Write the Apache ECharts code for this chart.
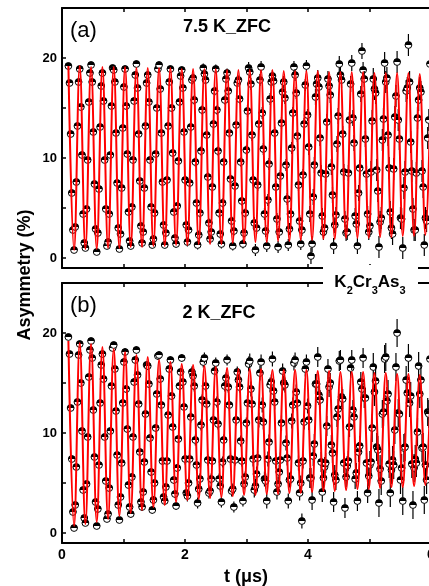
<!DOCTYPE html>
<html>
<head>
<meta charset="utf-8">
<script src="https://cdn.jsdelivr.net/npm/echarts@6/dist/echarts.min.js"></script>
<style>
  html, body { margin: 0; padding: 0; background: #fff; }
  #chart { width: 429px; height: 586px; }
</style>
</head>
<body>
<div id="chart"></div>
<script>
// time binning of the spectra (us)
var t0 = 0.104
var binWidth = 0.01843
var halfPeriod = 0.09215

// (a) 7.5 K_ZFC asymmetry (%), one row per precession period
var asymA = [
  [19.2, 17.5, 12.4, 6.5, 2.8, 0.8, 3.1, 7.6, 13.2, 17.6],
  [18.9, 15.1, 10.3, 4.4, 1.5, 1.0, 4.9, 9.8, 15.6, 18.5],
  [19.3, 17.6, 12.6, 7.4, 2.9, 0.6, 2.5, 6.9, 13.1, 17.2],
  [18.5, 15.7, 9.8, 4.9, 1.2, 1.6, 4.4, 10.3, 15.2, 19.0],
  [18.8, 17.6, 12.5, 7.5, 3.0, 0.9, 2.4, 7.0, 13.0, 17.1],
  [18.9, 15.2, 10.4, 4.6, 1.7, 1.2, 5.1, 9.8, 15.7, 18.3],
  [19.4, 17.0, 12.4, 7.7, 3.2, 1.5, 2.6, 7.0, 13.2, 17.5],
  [18.3, 15.6, 9.8, 5.1, 1.3, 1.9, 4.5, 10.4, 15.0, 18.9],
  [19.3, 16.9, 12.5, 7.6, 3.3, 1.3, 2.5, 7.8, 13.2, 17.6],
  [18.9, 15.0, 10.5, 4.6, 2.0, 1.4, 5.2, 9.7, 15.6, 18.2],
  [18.8, 17.0, 12.6, 7.8, 3.3, 1.6, 2.8, 7.5, 13.1, 17.8],
  [18.0, 15.8, 9.6, 5.5, 1.3, 2.3, 4.5, 10.7, 14.8, 19.0],
  [18.4, 17.8, 12.3, 8.1, 3.5, 1.9, 2.6, 7.1, 13.4, 16.7],
  [18.9, 14.8, 10.7, 4.5, 2.4, 1.4, 5.5, 9.6, 15.8, 17.9],
  [18.5, 16.7, 12.5, 7.9, 3.7, 1.2, 2.7, 7.2, 13.3, 17.5],
  [17.8, 15.9, 9.6, 5.7, 1.4, 2.5, 4.5, 10.8, 14.7, 19.0],
  [18.6, 17.4, 12.3, 7.8, 3.5, 0.8, 3.0, 7.3, 13.4, 17.8],
  [19.1, 14.5, 10.9, 4.4, 2.7, 1.2, 5.8, 9.4, 15.9, 17.6],
  [18.2, 17.7, 12.5, 7.1, 3.9, 1.1, 2.6, 8.2, 13.5, 16.6],
  [17.6, 16.0, 9.3, 5.9, 1.3, 2.9, 4.4, 11.0, 14.5, 19.1],
  [18.3, 16.5, 12.2, 7.3, 3.7, 1.4, 2.8, 8.3, 13.4, 17.3],
  [19.2, 14.3, 11.1, 4.4, 0.2, 1.4, 6.1, 9.3, 16.1, 17.4],
  [18.0, 17.1, 12.0, 8.5, 4.2, 2.6, 3.0, 8.4, 13.6, 17.9],
  [17.2, 16.3, 9.1, 6.3, 1.2, 3.3, 4.3, 11.4, 14.2, 19.4],
  [18.3, 17.8, 12.4, 8.6, 3.9, 2.5, 2.6, 8.5, 13.8, 17.4],
  [19.5, 14.0, 11.5, 4.2, 3.4, 1.2, 6.5, 9.0, 16.4, 20.7],
  [18.8, 17.9, 11.9, 8.4, 4.4, 2.6, 3.2, 8.6, 13.7, 17.9],
  [16.9, 16.5, 8.8, 6.7, 1.1, 3.6, 4.0, 11.8, 13.9, 19.5],
  [17.6, 18.0, 12.3, 9.0, 4.6, 3.0, 2.4, 8.9, 14.1, 16.2],
  [19.6, 13.8, 11.9, 4.0, 3.9, 1.0, 7.0, 8.6, 16.7, 17.0],
  [21.3, 17.6, 11.6, 8.7, 4.9, 2.8, 2.8, 8.5, 14.0, 15.8],
  [17.0, 16.6, 8.7, 7.1, 1.3, 4.0, 3.7, 12.0, 13.8, 19.4]
]

// (b) 2 K_ZFC asymmetry (%)
var asymB = [
  [19.6, 17.9, 12.5, 7.4, 2.1, 0.5, 2.8, 6.6, 13.1, 17.8],
  [18.9, 15.0, 10.2, 4.3, 1.5, 1.0, 4.9, 9.6, 15.6, 18.3],
  [19.2, 17.5, 12.3, 7.6, 3.1, 0.7, 2.4, 6.8, 13.0, 16.8],
  [17.9, 15.4, 9.6, 5.2, 1.4, 1.9, 4.5, 10.2, 14.7, 18.5],
  [18.8, 16.4, 12.2, 7.8, 2.8, 1.3, 3.6, 7.0, 13.0, 17.1],
  [18.1, 14.4, 10.4, 4.8, 2.6, 1.9, 5.6, 9.6, 15.1, 17.3],
  [18.3, 15.8, 12.9, 8.1, 3.1, 2.6, 4.1, 7.1, 11.9, 16.8],
  [16.7, 14.9, 9.5, 6.1, 2.3, 3.3, 5.0, 10.5, 13.9, 17.7],
  [17.8, 15.4, 12.8, 7.2, 3.6, 3.2, 4.6, 7.2, 11.8, 16.4],
  [17.3, 13.7, 10.6, 5.3, 3.9, 2.7, 6.5, 9.4, 14.7, 16.1],
  [17.5, 15.1, 12.6, 7.4, 4.0, 3.7, 5.0, 7.4, 11.6, 16.1],
  [15.7, 14.7, 9.3, 6.8, 3.0, 4.4, 5.4, 10.8, 13.3, 17.1],
  [17.5, 14.7, 12.9, 7.3, 4.0, 4.2, 5.4, 7.2, 11.3, 16.2],
  [17.0, 13.1, 10.9, 5.4, 4.7, 3.1, 7.1, 9.3, 14.7, 15.5],
  [17.3, 14.6, 12.8, 7.4, 4.2, 4.4, 2.6, 7.3, 11.3, 16.1],
  [15.3, 14.6, 9.2, 7.2, 3.2, 4.9, 5.6, 11.0, 13.0, 16.9],
  [17.2, 14.4, 12.9, 7.4, 4.3, 4.7, 5.9, 7.5, 11.3, 16.0],
  [17.1, 12.8, 11.1, 5.4, 5.2, 3.2, 7.4, 9.1, 14.8, 15.1],
  [17.4, 14.2, 13.1, 7.2, 4.1, 4.9, 6.1, 7.3, 11.0, 16.2],
  [15.0, 14.8, 9.0, 7.5, 3.2, 5.3, 5.4, 11.2, 12.8, 17.0],
  [17.3, 14.1, 13.0, 7.0, 4.0, 5.0, 1.2, 7.2, 11.1, 16.4],
  [17.1, 12.7, 11.3, 5.5, 5.5, 3.3, 7.7, 8.9, 14.9, 14.9],
  [17.6, 13.8, 13.3, 7.1, 4.1, 5.5, 6.6, 7.0, 10.7, 16.4],
  [14.6, 15.0, 8.8, 8.0, 3.1, 5.8, 5.3, 11.6, 12.4, 17.2],
  [17.3, 13.6, 13.4, 7.0, 2.5, 5.6, 6.7, 7.2, 10.6, 16.5],
  [17.3, 12.3, 11.6, 5.4, 6.0, 3.2, 8.1, 8.7, 15.1, 14.4],
  [17.5, 13.5, 13.5, 7.0, 4.0, 5.7, 6.8, 7.1, 10.5, 16.6],
  [14.1, 15.2, 8.6, 8.3, 3.0, 6.4, 5.2, 11.9, 12.1, 17.4],
  [17.6, 13.2, 13.9, 6.9, 4.0, 6.3, 7.3, 6.8, 10.3, 16.6],
  [20.0, 12.0, 11.9, 5.3, 6.5, 3.2, 8.5, 8.6, 15.3, 14.0],
  [17.5, 13.0, 13.7, 6.9, 2.8, 6.5, 7.4, 7.0, 10.1, 16.7],
  [13.9, 15.3, 8.5, 8.6, 3.3, 6.8, 5.3, 12.1, 11.9, 17.4]
]

// error bar half-length (%) for each 1 us of time
var errA = [0.3, 0.35, 0.45, 0.6, 0.8, 1.1]
var errB = [0.3, 0.4, 0.55, 0.75, 1.0, 1.4]

// fit curve: alternating maxima / minima, every half period from t0
var fitA = [19.2, 0.8, 19.2, 0.9, 19.1, 0.9, 19.1, 1.0, 19.1, 1.0, 19.1, 1.1, 19.0, 1.1, 19.0, 1.2,
  19.0, 1.2, 19.0, 1.3, 18.9, 1.3, 18.9, 1.4, 18.9, 1.4, 18.9, 1.4, 18.8, 1.5, 18.8, 1.5,
  18.8, 1.6, 18.8, 1.6, 18.8, 1.7, 18.7, 1.7, 18.7, 1.8, 18.7, 1.8, 18.7, 1.9, 18.6, 1.9,
  18.6, 2.0, 18.6, 2.0, 18.6, 2.0, 18.5, 2.1, 18.5, 2.1, 18.5, 2.2, 18.5, 2.2, 18.4, 2.3, 18.4]
var fitB = [19.2, 0.7, 19.0, 0.9, 18.9, 1.1, 18.6, 1.4, 18.4, 1.7, 18.1, 2.0, 17.8, 2.3, 17.6, 2.6,
  17.3, 2.8, 17.1, 3.1, 16.9, 3.3, 16.8, 3.4, 16.7, 3.5, 16.6, 3.6, 16.5, 3.7, 16.4, 3.8,
  16.4, 3.8, 16.4, 3.9, 16.3, 3.9, 16.3, 4.0, 16.3, 4.0, 16.3, 4.1, 16.2, 4.2, 16.2, 4.2,
  16.1, 4.3, 16.1, 4.4, 16.1, 4.4, 16.0, 4.5, 16.0, 4.6, 15.9, 4.6, 15.9, 4.7, 15.8, 4.8, 15.8]

var xTicks = [0, 2, 4, 6]
var yLabels = [0, 10, 20]
var yTicks = [0, 5, 10, 15, 20]

var FONT = '"Liberation Sans", Arial, sans-serif'

function toPoints(rows, err) {
  var out = []
  var flat = [].concat.apply([], rows)
  for (var i = 0; i < flat.length; i++) {
    var t = t0 + i * binWidth
    out.push([t, flat[i], err[Math.min(err.length - 1, Math.floor(t))]])
  }
  return out
}

function toFit(vals) {
  return vals.map(function(v, k) {
    return [t0 + k * halfPeriod, v]
  })
}

function renderPoint(params, api) {
  var t = api.value(0)
  var y = api.value(1)
  var e = api.value(2)
  var p = api.coord([t, y])
  var hi = api.coord([t, y + e])
  var lo = api.coord([t, y - e])
  var r = 3.4
  return {
    type: 'group',
    children: [
      { type: 'line', shape: { x1: p[0], y1: hi[1], x2: p[0], y2: lo[1] }, style: { stroke: '#000', lineWidth: 1.2 } },
      { type: 'circle', shape: { cx: p[0], cy: p[1], r: r }, style: { fill: '#fff', stroke: '#000', lineWidth: 1 } },
      { type: 'sector', shape: { cx: p[0], cy: p[1], r0: 0, r: r, startAngle: Math.PI, endAngle: 2 * Math.PI }, style: { fill: '#000' } }
    ]
  }
}

function xAxisFor(grid, pos, showLabel) {
  return {
    type: 'value',
    gridIndex: grid,
    position: pos,
    min: 0,
    max: 6,
    interval: 1,
    axisLine: { onZero: false, lineStyle: { color: '#000', width: 2 } },
    axisTick: { inside: true, length: 4, lineStyle: { color: '#000', width: 1.5 } },
    splitLine: { show: false },
    axisLabel: {
      show: showLabel,
      customValues: xTicks,
      color: '#000',
      fontFamily: FONT,
      fontWeight: 'bold',
      fontSize: 14,
      margin: 5
    }
  }
}

function yAxisFor(grid) {
  return {
    type: 'value',
    gridIndex: grid,
    min: -1,
    max: 25,
    axisLine: { onZero: false, lineStyle: { color: '#000', width: 2 } },
    axisTick: { inside: true, length: 4, customValues: yTicks, lineStyle: { color: '#000', width: 1.5 } },
    splitLine: { show: false },
    axisLabel: {
      customValues: yLabels,
      color: '#000',
      fontFamily: FONT,
      fontWeight: 'bold',
      fontSize: 13,
      margin: 5
    }
  }
}

var myChart = echarts.init(document.getElementById('chart'))
var option = {
  animation: false,
  backgroundColor: '#fff',
  grid: [
    { left: 62, top: 8, width: 369, height: 260, outerBoundsMode: 'none', containLabel: false },
    { left: 62, top: 283, width: 369, height: 260, outerBoundsMode: 'none', containLabel: false }
  ],
  xAxis: [
    xAxisFor(0, 'bottom', false),
    xAxisFor(0, 'top', false),
    xAxisFor(1, 'bottom', true),
    xAxisFor(1, 'top', false)
  ],
  yAxis: [yAxisFor(0), yAxisFor(1)],
  series: [
    {
      name: '7.5 K_ZFC',
      type: 'custom',
      xAxisIndex: 0,
      yAxisIndex: 0,
      renderItem: renderPoint,
      data: toPoints(asymA, errA),
      z: 2
    },
    {
      name: 'fit a',
      type: 'line',
      xAxisIndex: 0,
      yAxisIndex: 0,
      data: toFit(fitA),
      showSymbol: false,
      smooth: 0.4,
      lineStyle: { color: '#ff0000', width: 2 },
      z: 3
    },
    {
      name: '2 K_ZFC',
      type: 'custom',
      xAxisIndex: 2,
      yAxisIndex: 1,
      renderItem: renderPoint,
      data: toPoints(asymB, errB),
      z: 2
    },
    {
      name: 'fit b',
      type: 'line',
      xAxisIndex: 2,
      yAxisIndex: 1,
      data: toFit(fitB),
      showSymbol: false,
      smooth: 0.4,
      lineStyle: { color: '#ff0000', width: 2 },
      z: 3
    }
  ],
  graphic: [
    { type: 'text', x: 70, y: 31, style: { text: '(a)', fontFamily: FONT, fontSize: 22, fill: '#000', align: 'left', verticalAlign: 'middle' } },
    { type: 'text', x: 227, y: 27, style: { text: '7.5 K_ZFC', fontFamily: FONT, fontWeight: 'bold', fontSize: 18, fill: '#000', align: 'center', verticalAlign: 'middle' } },
    { type: 'text', x: 70, y: 306, style: { text: '(b)', fontFamily: FONT, fontSize: 22, fill: '#000', align: 'left', verticalAlign: 'middle' } },
    { type: 'text', x: 219, y: 313, style: { text: '2 K_ZFC', fontFamily: FONT, fontWeight: 'bold', fontSize: 18, fill: '#000', align: 'center', verticalAlign: 'middle' } },
    { type: 'rect', shape: { x: 323, y: 265, width: 95, height: 25 }, style: { fill: '#fff' }, z: 100 },
    {
      type: 'text', x: 370, y: 282, z: 101,
      style: {
        text: '{m|K}{s|2}{m|Cr}{s|3}{m|As}{s|3}',
        align: 'center',
        verticalAlign: 'middle',
        fill: '#000',
        rich: {
          m: { fontFamily: FONT, fontWeight: 'bold', fontSize: 17, lineHeight: 28 },
          s: { fontFamily: FONT, fontWeight: 'bold', fontSize: 11, lineHeight: 11, verticalAlign: 'bottom' }
        }
      }
    },
    { type: 'text', x: 25, y: 275, rotation: Math.PI / 2, style: { text: 'Asymmetry (%)', fontFamily: FONT, fontWeight: 'bold', fontSize: 18, fill: '#000', align: 'center', verticalAlign: 'middle' } },
    { type: 'text', x: 246, y: 577, style: { text: 't (\u03bcs)', fontFamily: FONT, fontWeight: 'bold', fontSize: 18, fill: '#000', align: 'center', verticalAlign: 'middle' } }
  ]
}
myChart.setOption(option)
</script>
</body>
</html>
